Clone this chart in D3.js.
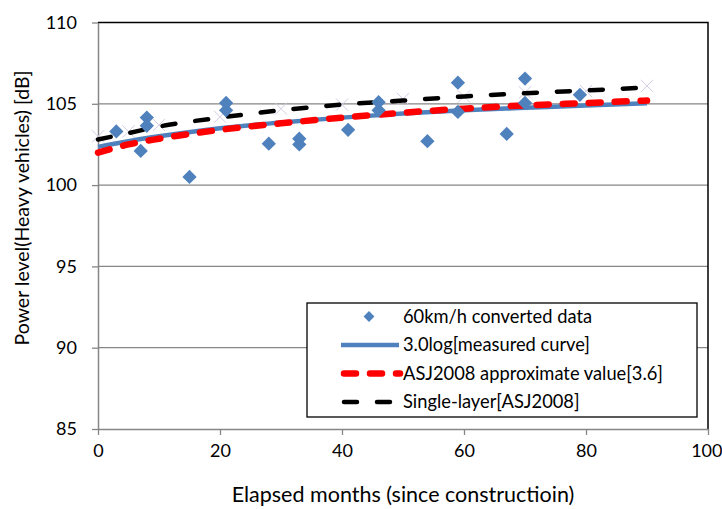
<!DOCTYPE html>
<html>
<head>
<meta charset="utf-8">
<script src="https://cdn.jsdelivr.net/npm/d3@7"></script>
<style>
  body { margin: 0; background: #fff; }
  text { font-family: Lato, "Open Sans", sans-serif; fill: #000; }
</style>
</head>
<body>
<svg width="722" height="509"></svg>
<script>
// measured points (60km/h converted)
const pointMonths = [3, 7, 8, 8, 15, 21, 21, 28, 33, 33, 41, 46, 46, 54, 59, 59, 67, 70, 70, 79];
const pointLevels = [103.3, 102.1, 104.15, 103.65, 100.5, 105.05, 104.6, 102.55, 102.85, 102.5,
                     103.4, 105.1, 104.6, 102.7, 106.3, 104.5, 103.15, 106.55, 105.05, 105.55];

// curves, read at these months
const curveMonths = [0, 5, 10, 20, 30, 40, 50, 60, 70, 80, 90];
const measuredCurve = [102.35, 102.7, 103.0, 103.5, 103.85, 104.15, 104.4, 104.6, 104.75, 104.9, 105.03];
const asjApprox     = [102.0, 102.5, 102.85, 103.4, 103.8, 104.15, 104.45, 104.7, 104.9, 105.05, 105.2];
const singleLayer   = [102.8, 103.2, 103.6, 104.15, 104.6, 104.95, 105.2, 105.45, 105.65, 105.82, 106.0];
// faint x markers sitting on the single-layer curve
const singleLayerMarks = [103.0, 103.3, 103.7, 104.2, 104.7, 104.95, 105.3, 105.45, 105.7, 105.78, 106.1];

const xTicks = [0, 20, 40, 60, 80, 100];
const yTicks = [85, 90, 95, 100, 105, 110];
const legendLabels = ['60km/h converted data', '3.0log[measured curve]',
                      'ASJ2008 approximate value[3.6]', 'Single-layer[ASJ2008]'];

const svg = d3.select('svg');
const gray = '#868686';
const blue = '#4f81bd';

const x = d3.scaleLinear().domain([0, 100]).range([98, 708]);
const y = d3.scaleLinear().domain([85, 110]).range([429, 22.5]);

// gridlines
svg.append('g').selectAll('line')
  .data(yTicks.slice(1, -1))
  .enter().append('line')
    .attr('x1', x(0)).attr('x2', x(100))
    .attr('y1', d => y(d)).attr('y2', d => y(d))
    .attr('stroke', gray).attr('stroke-width', 1.3);

// top and right border
svg.append('path')
  .attr('d', `M${x(0)},${y(110)}H${x(100)}V${y(85)}`)
  .attr('fill', 'none').attr('stroke', '#000').attr('stroke-width', 1.5);

// axes
const xAxis = d3.axisBottom(x).tickValues(xTicks).tickSize(6).tickPadding(7).tickSizeOuter(0);
const xAxisG = svg.append('g').attr('transform', `translate(0,${y(85)})`).call(xAxis);
const yAxis = d3.axisLeft(y).tickValues(yTicks).tickSize(6).tickPadding(15).tickSizeOuter(0);
const yAxisG = svg.append('g').attr('transform', `translate(${x(0)},0)`).call(yAxis);
[xAxisG, yAxisG].forEach(g => {
  g.selectAll('.domain').attr('stroke', gray).attr('stroke-width', 1.5);
  g.selectAll('.tick line').attr('stroke', gray).attr('stroke-width', 1.3);
  g.selectAll('.tick text').style('font-size', '18px').attr('fill', '#000');
});
xAxisG.selectAll('.tick text').attr('dy', '0.85em');
// keep the last label inside the picture
xAxisG.selectAll('.tick text').filter(d => d === 100).attr('text-anchor', 'end').attr('dx', 14);

// axis titles
svg.append('text')
  .attr('x', 403).attr('y', 502)
  .attr('text-anchor', 'middle')
  .style('font-size', '21.5px')
  .text('Elapsed months (since constructioin)');
svg.append('text')
  .attr('transform', 'translate(29,208) rotate(-90)')
  .attr('text-anchor', 'middle')
  .style('font-size', '19.5px')
  .text('Power level(Heavy vehicles) [dB]');

const line = vals => d3.line()
  .x((d, i) => x(curveMonths[i]))
  .y(d => y(d))
  .curve(d3.curveMonotoneX)(vals);

// faint x markers
svg.append('g').selectAll('path')
  .data(singleLayerMarks)
  .enter().append('path')
    .attr('d', d3.symbol().type(d3.symbolX).size(100))
    .attr('transform', (d, i) => `translate(${x(curveMonths[i])},${y(d)})`)
    .attr('fill', 'none').attr('stroke', '#d4cce4').attr('stroke-width', 1);

// curves
svg.append('path').attr('d', line(measuredCurve))
  .attr('fill', 'none').attr('stroke', blue).attr('stroke-width', 4.5);
svg.append('path').attr('d', line(asjApprox))
  .attr('fill', 'none').attr('stroke', '#ff0000').attr('stroke-width', 6.5)
  .attr('stroke-linecap', 'round').attr('stroke-dasharray', '12 14');
svg.append('path').attr('d', line(singleLayer))
  .attr('fill', 'none').attr('stroke', '#000').attr('stroke-width', 4.5)
  .attr('stroke-linecap', 'round').attr('stroke-dasharray', '13 20');

// diamonds
const diamond = d3.symbol().type(d3.symbolDiamond2).size(130);
svg.append('g').selectAll('path')
  .data(pointMonths)
  .enter().append('path')
    .attr('d', diamond)
    .attr('transform', (d, i) => `translate(${x(d)},${y(pointLevels[i])})`)
    .attr('fill', blue);

// legend
const lg = svg.append('g').attr('transform', 'translate(307,303)');
lg.append('rect').attr('width', 390).attr('height', 114)
  .attr('fill', '#fff').attr('stroke', '#000').attr('stroke-width', 1.3);
const rows = lg.selectAll('g.row').data(legendLabels).enter().append('g')
  .attr('class', 'row')
  .attr('transform', (d, i) => `translate(0,${13.5 + i * 28.5})`);
rows.append('text').attr('x', 96).attr('dy', '0.35em')
  .style('font-size', '18.3px').text(d => d);
rows.filter((d, i) => i === 0).append('path')
  .attr('d', d3.symbol().type(d3.symbolDiamond2).size(75))
  .attr('transform', 'translate(62,0)').attr('fill', blue);
rows.filter((d, i) => i === 1).append('line')
  .attr('x1', 34).attr('x2', 92).attr('stroke', blue).attr('stroke-width', 4.5);
rows.filter((d, i) => i === 2).append('line')
  .attr('x1', 37).attr('x2', 93).attr('stroke', '#ff0000').attr('stroke-width', 6.5)
  .attr('stroke-linecap', 'round').attr('stroke-dasharray', '12 14');
rows.filter((d, i) => i === 3).append('line')
  .attr('x1', 37).attr('x2', 93).attr('stroke', '#000').attr('stroke-width', 4.5)
  .attr('stroke-linecap', 'round').attr('stroke-dasharray', '13 20');
</script>
</body>
</html>
